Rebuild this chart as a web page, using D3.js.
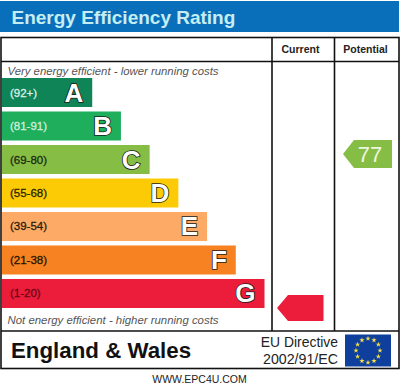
<!DOCTYPE html>
<html><head><meta charset="utf-8">
<script src="https://cdnjs.cloudflare.com/ajax/libs/d3/7.8.5/d3.min.js"></script>
<style>html,body{margin:0;padding:0;background:#fff}svg{display:block}text{font-family:"Liberation Sans",Arial,sans-serif}</style>
</head><body><svg id="c" width="400" height="388"></svg>
<script>
const letters = ["A","B","C","D","E","F","G"];
const ranges = ["(92+)","(81-91)","(69-80)","(55-68)","(39-54)","(21-38)","(1-20)"];
const lengths = [1,2,3,4,5,6,7];
const colors = ["#0f8457","#1eae5c","#86bd45","#fdcb05","#fcaa65","#f68221","#ec1c3b"];
const labelColors = ["#dcefe6","#d2eedd","#1d2b10","#2b2400","#2b1c08","#2b1400","#6a0818"];
const potentialRating = 77;
const currentRating = 1;
const columnHeads = ["Current","Potential"];
const titleText = "Energy Efficiency Rating";
const topNote = "Very energy efficient - lower running costs";
const bottomNote = "Not energy efficient - higher running costs";
const region = "England & Wales";
const directive = ["EU Directive","2002/91/EC"];
const site = "WWW.EPC4U.COM";
const starIdx = d3.range(12);

const svg = d3.select("#c");
svg.append("rect").attr("x",0).attr("y",0).attr("width",400).attr("height",388).attr("fill","#fff");
svg.append("rect").attr("x",0).attr("y",1).attr("width",399).attr("height",31).attr("fill","#0a6fba");
svg.append("text").attr("x",11.5).attr("y",23.5).attr("font-size",19).attr("font-weight","bold").attr("fill","#c5eef3").text(titleText);

const ink="#111";
const line=(x1,y1,x2,y2,w=1.6)=>svg.append("line").attr("x1",x1).attr("y1",y1).attr("x2",x2).attr("y2",y2).attr("stroke",ink).attr("stroke-width",w);
svg.append("rect").attr("x",1).attr("y",37.5).attr("width",398).attr("height",331).attr("fill","none").attr("stroke",ink).attr("stroke-width",1.6);
line(1,61.5,399,61.5); line(1,331,399,331);
line(272,37.5,272,331); line(334.5,37.5,334.5,331);

svg.selectAll("text.head").data(columnHeads).join("text").attr("class","head")
 .attr("x",(d,i)=>[300.5,365.5][i]).attr("y",53).attr("text-anchor","middle")
 .attr("font-size",10.5).attr("font-weight","bold").attr("fill","#222").text(d=>d);

const note=(t,y)=>svg.append("text").attr("x",7.5).attr("y",y).attr("font-size",11).attr("font-style","italic").attr("fill","#555").attr("textLength",211).attr("lengthAdjust","spacingAndGlyphs").text(t);
note(topNote,75); note(bottomNote,324);

const y = d3.scaleBand().domain(letters).range([78,308]).paddingInner(0.134).paddingOuter(0).align(0);
const x = d3.scaleLinear().domain([0,7]).range([63.5,264.5]);
const g = svg.selectAll("g.band").data(letters).join("g").attr("class","band");
g.append("rect").attr("x",2).attr("y",d=>y(d)).attr("width",(d,i)=>x(lengths[i])-2).attr("height",y.bandwidth()).attr("fill",(d,i)=>colors[i]);
g.append("text").attr("x",10).attr("y",d=>y(d)+y.bandwidth()/2+4).attr("font-size",11.5).attr("fill",(d,i)=>labelColors[i]).attr("stroke",(d,i)=>labelColors[i]).attr("stroke-width",0.3).text((d,i)=>ranges[i]);
g.append("text").attr("x",(d,i)=>x(lengths[i])-9).attr("y",d=>y(d)+y.bandwidth()/2+9).attr("text-anchor","end")
 .attr("font-size",26).attr("font-weight","bold").attr("fill","#fff").attr("stroke","#1a1a1a").attr("stroke-width",1.6).attr("paint-order","stroke").text(d=>d);

const yr = d3.scaleLinear().domain([currentRating,potentialRating]).range([308,154]);
const arrow=(xl,xr,cy,h,c)=>svg.append("path").attr("d",d3.line()([[xl,cy],[xl+11,cy-h/2],[xr,cy-h/2],[xr,cy+h/2],[xl+11,cy+h/2]])+"Z").attr("fill",c);
arrow(343,392,yr(potentialRating),28,colors[2]);
svg.append("text").attr("x",370).attr("y",yr(potentialRating)+8).attr("text-anchor","middle").attr("font-size",22).attr("fill","#eef6e0").text(potentialRating);
arrow(277,323.5,yr(currentRating),26,colors[6]);

svg.append("text").attr("x",11).attr("y",358).attr("font-size",22.3).attr("font-weight","bold").attr("fill","#111").text(region);
svg.selectAll("text.dir").data(directive).join("text").attr("class","dir").attr("x",338).attr("y",(d,i)=>[347,363.5][i]).attr("text-anchor","end").attr("font-size",(d,i)=>[13.9,14.2][i]).attr("fill","#222").text(d=>d);

svg.append("rect").attr("x",345).attr("y",334.5).attr("width",46).attr("height",32).attr("fill","#0f3f9c");
const star=d3.symbol().type(d3.symbolStar).size(9);
const ang=d3.scaleLinear().domain([0,12]).range([0,2*Math.PI]);
svg.selectAll("path.st").data(starIdx).join("path").attr("class","st").attr("d",star)
 .attr("transform",d=>`translate(${368+12*Math.sin(ang(d))},${350.5-12*Math.cos(ang(d))})`).attr("fill","#f4e04a");

svg.append("text").attr("x",199.5).attr("y",383).attr("text-anchor","middle").attr("font-size",10.5).attr("fill","#222").text(site);
</script></body></html>
